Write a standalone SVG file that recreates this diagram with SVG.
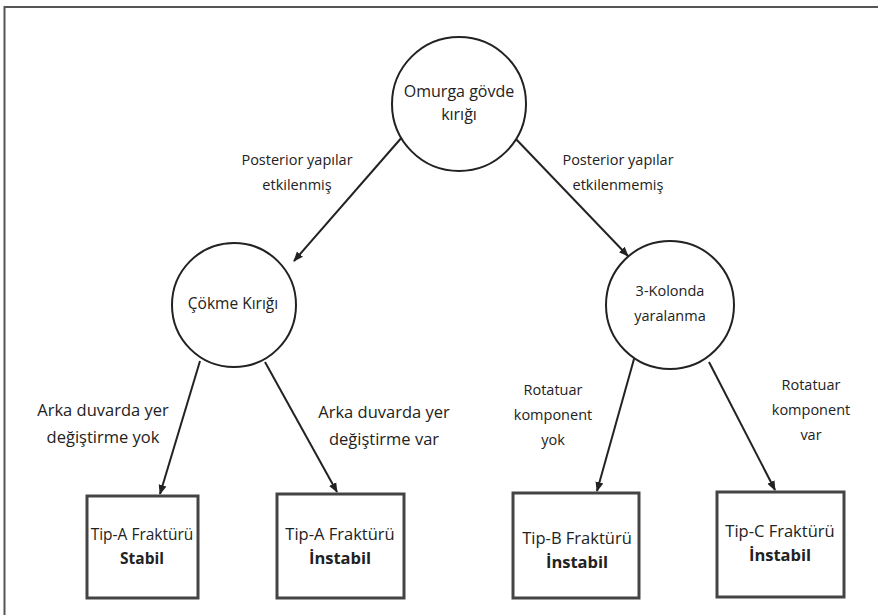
<svg xmlns="http://www.w3.org/2000/svg" width="878" height="615" viewBox="0 0 878 615">
<style>
.t{font-family:"Open Sans","DejaVu Sans",sans-serif;font-size:14.5px;fill:#222;text-anchor:middle}
.a{font-size:16.5px}
.o{font-size:16px}
.k{font-size:15.5px}
.x{font-size:16.5px}
.b{font-weight:bold}
.c{fill:#fff;stroke:#222;stroke-width:2}
.r{fill:#fff;stroke:#444;stroke-width:3}
.e{stroke:#222;stroke-width:2;fill:none;marker-end:url(#ah)}
</style>
<defs>
<marker id="ah" viewBox="0 0 10 10" refX="9" refY="5" markerWidth="5" markerHeight="5" orient="auto" markerUnits="strokeWidth">
<path d="M0,1 L10,5 L0,9 z" fill="#222"/>
</marker>
</defs>
<rect width="878" height="615" fill="#fff"/>
<path d="M4.5,640 V7 H900" fill="none" stroke="#555" stroke-width="2"/>
<g id="connectors">
<line class="e" x1="403" y1="136" x2="294" y2="261"/>
<line class="e" x1="514" y1="137" x2="628" y2="256"/>
<line class="e" x1="200" y1="361" x2="160" y2="494"/>
<line class="e" x1="265" y1="362" x2="337" y2="492"/>
<line class="e" x1="634" y1="359" x2="597" y2="491"/>
<line class="e" x1="709" y1="362" x2="775" y2="490"/>
<text class="t" x="297" y="165">Posterior yapılar</text>
<text class="t" x="297" y="190">etkilenmiş</text>
<text class="t" x="618" y="165">Posterior yapılar</text>
<text class="t" x="618" y="190">etkilenmemiş</text>
<text class="t a" x="103" y="416">Arka duvarda yer</text>
<text class="t a" x="103" y="443">değiştirme yok</text>
<text class="t a" x="384" y="418">Arka duvarda yer</text>
<text class="t a" x="384" y="445">değiştirme var</text>
<text class="t" x="553" y="395">Rotatuar</text>
<text class="t" x="553" y="420">komponent</text>
<text class="t" x="553" y="445">yok</text>
<text class="t" x="811" y="390">Rotatuar</text>
<text class="t" x="811" y="415">komponent</text>
<text class="t" x="811" y="440">var</text>
</g>
<g id="n1">
<circle class="c" cx="459" cy="104" r="67"/>
<text class="t o" x="459" y="97">Omurga gövde</text>
<text class="t o" x="459" y="120">kırığı</text>
</g>
<g id="n2">
<circle class="c" cx="234" cy="305" r="62"/>
<text class="t k" x="233" y="309">Çökme Kırığı</text>
</g>
<g id="n3">
<circle class="c" cx="670" cy="305" r="64"/>
<text class="t" x="670" y="296">3-Kolonda</text>
<text class="t" x="670" y="321">yaralanma</text>
</g>
<g id="n4">
<rect class="r" x="87" y="496" width="111" height="102"/>
<text class="t k" x="142" y="540">Tip-A Fraktürü</text>
<text class="t k b" x="142" y="564">Stabil</text>
</g>
<g id="n5">
<rect class="r" x="277" y="494" width="127" height="104"/>
<text class="t x" x="340" y="540">Tip-A Fraktürü</text>
<text class="t x b" x="340" y="564">İnstabil</text>
</g>
<g id="n6">
<rect class="r" x="513" y="493" width="126" height="105"/>
<text class="t x" x="577" y="544">Tip-B Fraktürü</text>
<text class="t x b" x="577" y="568">İnstabil</text>
</g>
<g id="n7">
<rect class="r" x="717" y="492" width="127" height="105"/>
<text class="t x" x="780" y="537">Tip-C Fraktürü</text>
<text class="t x b" x="780" y="561">İnstabil</text>
</g>
</svg>
